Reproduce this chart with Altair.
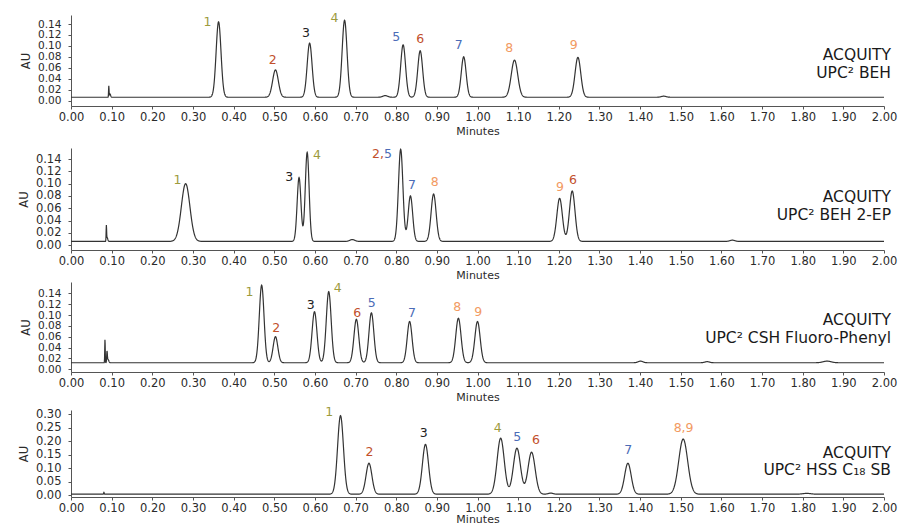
import altair as alt
import numpy as np
import pandas as pd

# ---------------- data ----------------
X_TICKS = [round(i * 0.1, 2) for i in range(21)]
Y_TICKS_A = [0.00, 0.02, 0.04, 0.06, 0.08, 0.10, 0.12, 0.14]
Y_TICKS_B = [0.00, 0.05, 0.10, 0.15, 0.20, 0.25, 0.30]

# Panel 1: ACQUITY UPC2 BEH  (apex heights in AU, retention time in min, peak sigma in min)
beh_baseline = 0.006
beh_time = [0.093, 0.096, 0.363, 0.503, 0.587, 0.673, 0.773, 0.817, 0.859, 0.966, 1.091, 1.247, 1.458]
beh_height = [0.026, 0.012, 0.144, 0.056, 0.105, 0.147, 0.009, 0.102, 0.091, 0.080, 0.074, 0.079, 0.008]
beh_sigma = [0.0006, 0.0015, 0.006, 0.007, 0.006, 0.006, 0.006, 0.006, 0.006, 0.006, 0.008, 0.007, 0.006]
beh_label = ["1", "2", "3", "4", "5", "6", "7", "8", "9"]
beh_label_t = [0.336, 0.496, 0.578, 0.648, 0.800, 0.859, 0.954, 1.078, 1.237]
beh_label_au = [0.144, 0.074, 0.123, 0.152, 0.116, 0.112, 0.102, 0.096, 0.102]

# Panel 2: ACQUITY UPC2 BEH 2-EP
ep_baseline = 0.006
ep_time = [0.087, 0.089, 0.282, 0.561, 0.581, 0.692, 0.811, 0.835, 0.892, 1.202, 1.233, 1.627]
ep_height = [0.030, 0.012, 0.100, 0.110, 0.151, 0.009, 0.156, 0.080, 0.083, 0.076, 0.088, 0.008]
ep_sigma = [0.0006, 0.0015, 0.0105, 0.0047, 0.0047, 0.006, 0.0055, 0.0055, 0.0062, 0.0068, 0.0068, 0.006]
ep_label = ["1", "3", "4", "2,", "5", "7", "8", "9", "6"]
ep_label_t = [0.262, 0.537, 0.605, 0.755, 0.7796, 0.839, 0.895, 1.203, 1.235]
ep_label_au = [0.106, 0.110, 0.147, 0.149, 0.149, 0.098, 0.103, 0.095, 0.106]

# Panel 3: ACQUITY UPC2 CSH Fluoro-Phenyl
csh_baseline = 0.012
csh_time = [0.0836, 0.0886, 0.091, 0.469, 0.503, 0.599, 0.634, 0.702, 0.739, 0.833, 0.953, 1.000, 1.401, 1.565, 1.860]
csh_height = [0.055, 0.031, 0.018, 0.155, 0.060, 0.106, 0.143, 0.092, 0.104, 0.088, 0.094, 0.088, 0.015, 0.014, 0.015]
csh_sigma = [0.0006, 0.0008, 0.002, 0.0058, 0.0058, 0.006, 0.006, 0.006, 0.006, 0.006, 0.0065, 0.0065, 0.006, 0.006, 0.01]
csh_label = ["1", "2", "3", "4", "6", "5", "7", "8", "9"]
csh_label_t = [0.439, 0.505, 0.590, 0.656, 0.704, 0.740, 0.839, 0.950, 1.002]
csh_label_au = [0.143, 0.0755, 0.118, 0.149, 0.103, 0.123, 0.104, 0.115, 0.106]

# Panel 4: ACQUITY UPC2 HSS C18 SB
hss_baseline = 0.003
hss_time = [0.081, 0.663, 0.733, 0.872, 1.057, 1.097, 1.133, 1.180, 1.370, 1.506, 1.810]
hss_height = [0.010, 0.295, 0.118, 0.188, 0.211, 0.174, 0.159, 0.007, 0.118, 0.208, 0.006]
hss_sigma = [0.0008, 0.0072, 0.0072, 0.0075, 0.0088, 0.0088, 0.0088, 0.006, 0.008, 0.011, 0.01]
hss_label = ["1", "2", "3", "4", "5", "6", "7", "8,9"]
hss_label_t = [0.635, 0.734, 0.868, 1.050, 1.098, 1.144, 1.371, 1.507]
hss_label_au = [0.307, 0.161, 0.229, 0.250, 0.217, 0.204, 0.167, 0.250]

COLUMN_NAMES = [
    ["ACQUITY", "UPC\u00b2 BEH"],
    ["ACQUITY", "UPC\u00b2 BEH 2-EP"],
    ["ACQUITY", "UPC\u00b2 CSH Fluoro-Phenyl"],
    ["ACQUITY", "UPC\u00b2 HSS C\u2081\u2088 SB"],
]

# ---------------- styles ----------------
OLIVE, RED, BLUE, ORANGE, BLACK = "#9d9b3d", "#c2502c", "#4b6cb7", "#f29a62", "#222222"
LABEL_COLOR = {"1": OLIVE, "4": OLIVE, "2": RED, "2,": RED, "6": RED, "3": BLACK,
               "5": BLUE, "7": BLUE, "8": ORANGE, "9": ORANGE, "8,9": ORANGE}
FONT = "DejaVu Sans"
TEXT_COLOR = "#2b2b2b"
W = 813

T_GRID = np.round(np.arange(0, 2.00001, 0.0005), 4)


def trace(baseline, times, heights, sigmas):
    au = np.full(T_GRID.shape, baseline, dtype=float)
    for t0, h, s in zip(times, heights, sigmas):
        au += (h - baseline) * np.exp(-0.5 * ((T_GRID - t0) / s) ** 2)
    return pd.DataFrame({"t": T_GRID, "au": np.round(au, 5)})


def labels(texts, ts, aus):
    return pd.DataFrame({"t": ts, "au": aus, "label": texts,
                         "color": [LABEL_COLOR[s] for s in texts]})


def panel(trace_df, label_df, domain, yticks, height, names, name_y, ylab_size, xtitle_pad=2.5):
    xenc = alt.X("t:Q",
                 scale=alt.Scale(domain=[0, 2], nice=False, zero=False),
                 axis=alt.Axis(values=X_TICKS, format=".2f", title="Minutes",
                               labelFont=FONT, labelFontSize=11.5, labelColor=TEXT_COLOR,
                               titleFont=FONT, titleFontSize=11, titleFontWeight="normal",
                               titleColor=TEXT_COLOR, tickSize=3, labelPadding=2,
                               titlePadding=xtitle_pad, domainColor="#555555", tickColor="#555555",
                               grid=False, labelFlush=False, labelOverlap=False))
    yenc = alt.Y("au:Q",
                 scale=alt.Scale(domain=domain, nice=False, zero=False),
                 axis=alt.Axis(values=yticks, format=".2f", title="AU",
                               labelFont=FONT, labelFontSize=ylab_size, labelColor=TEXT_COLOR,
                               titleFont=FONT, titleFontSize=11.5, titleFontWeight="normal",
                               titleColor=TEXT_COLOR, tickSize=3, labelPadding=7,
                               titlePadding=6, domainColor="#555555", tickColor="#555555",
                               grid=False, labelFlush=False, labelOverlap=False))
    line = alt.Chart(trace_df).mark_line(color="#333333", strokeWidth=1.2).encode(x=xenc, y=yenc)
    lab = alt.Chart(label_df).mark_text(font=FONT, fontSize=12.5, baseline="middle",
                                        align="center").encode(
        x=xenc, y=yenc, text="label:N", color=alt.Color("color:N", scale=None))
    layers = [line, lab]
    for txt, yy in zip(names, name_y):
        layers.append(
            alt.Chart(pd.DataFrame({"txt": [txt]})).mark_text(
                font=FONT, fontSize=15.5, align="right", baseline="middle", color="#1a1a1a"
            ).encode(x=alt.value(W + 7), y=alt.value(yy), text="txt:N"))
    return alt.layer(*layers).properties(width=W, height=height)


p1 = panel(trace(beh_baseline, beh_time, beh_height, beh_sigma),
           labels(beh_label, beh_label_t, beh_label_au),
           [-0.010, 0.1566], Y_TICKS_A, 91, COLUMN_NAMES[0], [40, 58], 10.6)
p2 = panel(trace(ep_baseline, ep_time, ep_height, ep_sigma),
           labels(ep_label, ep_label_t, ep_label_au),
           [-0.008, 0.158], Y_TICKS_A, 102, COLUMN_NAMES[1], [48.7, 67], 11.5)
p3 = panel(trace(csh_baseline, csh_time, csh_height, csh_sigma),
           labels(csh_label, csh_label_t, csh_label_au),
           [-0.005, 0.1608], Y_TICKS_A, 90, COLUMN_NAMES[2], [38, 56], 10.6)
p4 = panel(trace(hss_baseline, hss_time, hss_height, hss_sigma),
           labels(hss_label, hss_label_t, hss_label_au),
           [-0.0074, 0.316], Y_TICKS_B, 87, COLUMN_NAMES[3], [43, 60], 11.5, xtitle_pad=0)

top2 = alt.vconcat(p1, p2, spacing=10)
top3 = alt.vconcat(top2, p3, spacing=2)
chart = alt.vconcat(top3, p4, spacing=4).properties(
    padding={"left": 10, "top": 3, "right": 2, "bottom": 2}
).configure_view(stroke=None)

chart.save("out.html", embed_options={"renderer": "svg", "actions": False})
